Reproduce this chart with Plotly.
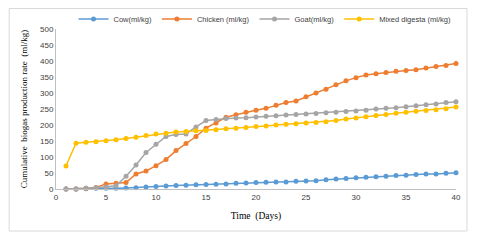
import plotly.graph_objects as go

days = list(range(1, 41))
cow = [0, 0, 1, 2, 2, 2, 3, 4, 6, 8, 9, 11, 12, 13, 14, 15, 16, 18, 19, 20,
       21, 22, 22, 24, 25, 26, 29, 31, 33, 35, 37, 38, 40, 42, 43, 45, 47, 47, 49, 51]
chicken = [0, 0, 2, 5, 16, 18, 20, 47, 56, 73, 92, 120, 142, 164, 190, 206, 224, 232, 240, 246,
           252, 262, 270, 275, 288, 300, 312, 326, 338, 348, 356, 360, 364, 368, 370, 373, 378, 383, 386, 392]
goat = [0, 0, 2, 4, 6, 10, 40, 75, 114, 140, 164, 170, 172, 194, 214, 217, 220, 222, 223, 225,
        227, 229, 231, 233, 234, 236, 238, 240, 242, 244, 246, 250, 252, 254, 257, 260, 263, 266, 270, 273]
mixed = [72, 143, 146, 148, 151, 154, 158, 162, 167, 172, 174, 178, 180, 182, 183, 185, 188, 190, 192, 195,
         197, 200, 202, 204, 206, 208, 210, 214, 219, 222, 226, 230, 233, 237, 240, 243, 245, 248, 251, 256]

series = [
    ("Cow(ml/kg)", cow, "#5B9BD5"),
    ("Chicken (ml/kg)", chicken, "#ED7D31"),
    ("Goat(ml/kg)", goat, "#A5A5A5"),
    ("Mixed digesta (ml/kg)", mixed, "#FFC000"),
]

fig = go.Figure()
for name, vals, col in series:
    fig.add_trace(go.Scatter(
        x=days, y=vals, name=name, mode="lines+markers",
        line=dict(color=col, width=1.5),
        marker=dict(color=col, size=5),
        cliponaxis=False,
    ))

# page body has an 8px default margin, so the figure is sized/offset to compensate
fig.update_layout(
    width=474, height=235,
    margin=dict(l=48, r=26, t=21, b=54, autoexpand=False),
    paper_bgcolor="white", plot_bgcolor="white",
    font=dict(family="Liberation Sans, Arial", size=8, color="#404040"),
    legend=dict(orientation="h", x=0.5225, xanchor="center", y=1.0625, yanchor="middle",
                font=dict(size=7.5, color="#404040"), itemwidth=30,
                tracegroupgap=0, bgcolor="rgba(0,0,0,0)"),
    showlegend=True,
)
fig.update_xaxes(
    range=[0, 40], tickmode="linear", tick0=0, dtick=5,
    showgrid=False, zeroline=False, showline=True, linecolor="#BFBFBF", linewidth=1,
    ticks="", tickfont=dict(size=8, color="#404040"),
    title=dict(text="Time  (Days)", font=dict(family="Liberation Serif, Times New Roman", size=9.5, color="black"),
               standoff=11),
)
fig.update_yaxes(
    range=[0, 500], tickmode="linear", tick0=0, dtick=50,
    showgrid=False, zeroline=False, showline=True, linecolor="#BFBFBF", linewidth=1,
    ticks="", tickfont=dict(size=8, color="#404040"),
    title=dict(text="Cumulative  biogas production rate  (ml/kg)",
               font=dict(family="Liberation Serif, Times New Roman", size=9, color="black"),
               standoff=10),
)
fig.add_shape(type="rect", xref="paper", yref="paper",
              x0=-0.117, x1=1.0275, y0=-0.2625, y1=1.128,
              line=dict(color="#D9D9D9", width=1), fillcolor="rgba(0,0,0,0)", layer="below")

fig.write_html("out.html")
